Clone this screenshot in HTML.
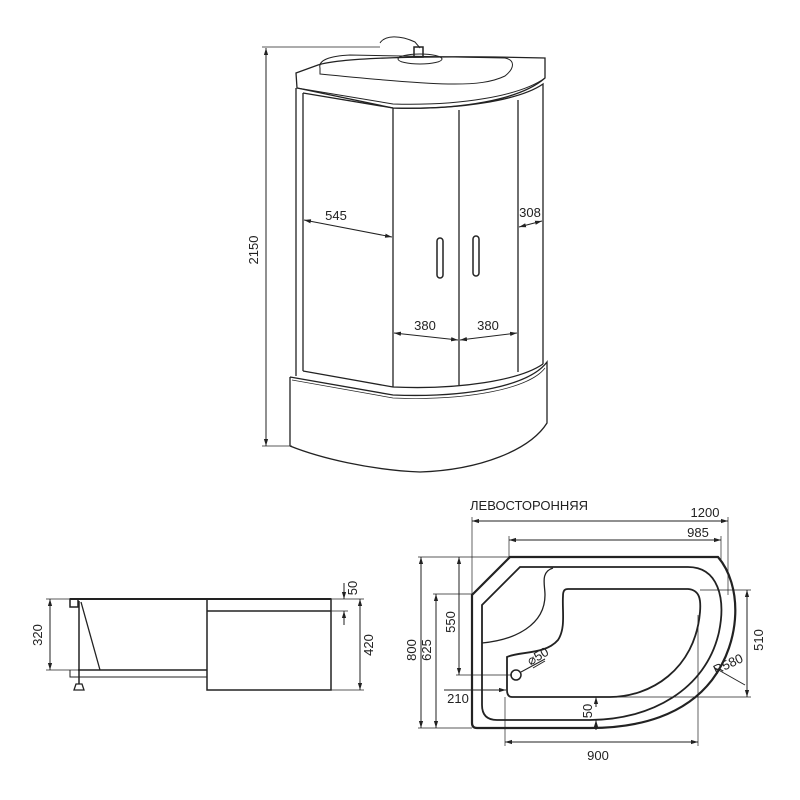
<!DOCTYPE html>
<html><head><meta charset="utf-8"><style>
html,body{margin:0;padding:0;background:#fff;}
svg{display:block;}
text{font-family:"Liberation Sans Narrow","Liberation Sans",sans-serif;font-size:13px;fill:#222;}
</style></head><body>
<svg width="800" height="800" viewBox="0 0 800 800" xmlns="http://www.w3.org/2000/svg">
<defs>
<marker id="a" viewBox="0 0 10 10" refX="10" refY="5" markerWidth="7" markerHeight="7" orient="auto-start-reverse"><path d="M0,2 L10,5 L0,8 Z" fill="#222"/></marker>
</defs>
<g fill="none" stroke="#222" stroke-width="1">
<!-- CABIN -->
<line x1="266" y1="48" x2="266" y2="446" marker-start="url(#a)" marker-end="url(#a)"/>
<line x1="262" y1="47" x2="380" y2="47" stroke-width="0.7"/>
<line x1="262" y1="446" x2="292" y2="446" stroke-width="0.7"/>
<!-- roof -->
<path d="M296,73 L318,65 C340,58 420,55 545,58 L545,78 C520,100 460,110 393,108 L297,88 Z" stroke-width="1.3"/>
<path d="M320,68 C318,60 330,56 350,55 L505,58 C515,60 515,68 505,76 C480,88 440,86 320,74 Z"/>
<ellipse cx="420" cy="59" rx="22" ry="5"/>
<path d="M380,43 C385,35 400,35 415,42 L420,48"/>
<rect x="414" y="47" width="9" height="10" stroke-width="1.5"/>
<!-- frame -->
<path d="M296,88 L296,376 M303,93 L303,371" stroke-width="1.3"/>
<path d="M303,93 L393,108 C460,110 520,100 543,84 L543,364" stroke-width="1.3"/>
<path d="M297,88 L393,104 C460,106 520,96 545,78" />
<line x1="393" y1="108" x2="393" y2="387" stroke-width="1.3"/>
<line x1="459" y1="110" x2="459" y2="385" stroke-width="1.3"/>
<line x1="518" y1="100" x2="518" y2="372" stroke-width="1.3"/>
<path d="M303,371 L393,387 C460,390 520,380 543,364" stroke-width="1.3"/>
<!-- handles -->
<rect x="437" y="238" width="6" height="40" rx="3" stroke-width="1.5"/>
<rect x="473" y="236" width="6" height="40" rx="3" stroke-width="1.5"/>
<!-- base -->
<path d="M290,377 L290,446 M290,377 L393,395 C470,398 530,385 547,362 L547,423 C530,450 480,470 420,472 C370,470 320,458 290,446" stroke-width="1.3"/>
<path d="M292,380 L393,398 C470,401 530,388 545,368" stroke-width="0.7"/>
<!-- cabin dims -->
<line x1="304" y1="220" x2="392" y2="237" marker-start="url(#a)" marker-end="url(#a)"/>
<line x1="519" y1="227" x2="542" y2="221" marker-start="url(#a)" marker-end="url(#a)"/>
<line x1="394" y1="333" x2="458" y2="340" marker-start="url(#a)" marker-end="url(#a)"/>
<line x1="460" y1="340" x2="517" y2="333" marker-start="url(#a)" marker-end="url(#a)"/>

<!-- SIDE VIEW -->
<line x1="70" y1="599" x2="331" y2="599" stroke-width="2"/>
<rect x="70" y="599" width="8" height="8" stroke-width="1.5"/>
<line x1="207" y1="599" x2="207" y2="670" stroke-dasharray="20,4"/>
<line x1="78" y1="670" x2="207" y2="670" stroke-width="1.5"/>
<path d="M70,670 L70,677 L207,677" />
<rect x="207" y="599" width="124" height="91" stroke-width="1.5"/>
<line x1="207" y1="611" x2="331" y2="611" stroke-width="1.5"/>
<line x1="79" y1="601" x2="79" y2="684" stroke-width="1.5"/>
<line x1="81" y1="602" x2="100" y2="670" stroke-width="1.3"/>
<path d="M74,690 L84,690 L82,684 L76,684 Z" stroke-width="1.3"/>
<line x1="50" y1="599" x2="50" y2="670" marker-start="url(#a)" marker-end="url(#a)"/>
<line x1="46" y1="599" x2="70" y2="599" stroke-width="0.7"/>
<line x1="46" y1="670" x2="78" y2="670" stroke-width="0.7"/>
<line x1="331" y1="599" x2="364" y2="599" stroke-width="0.7"/>
<line x1="331" y1="611" x2="348" y2="611" stroke-width="0.7"/>
<line x1="331" y1="690" x2="364" y2="690" stroke-width="0.7"/>
<line x1="344" y1="583" x2="344" y2="599" marker-end="url(#a)"/>
<line x1="344" y1="625" x2="344" y2="611" marker-end="url(#a)"/>
<line x1="360" y1="599" x2="360" y2="690" marker-start="url(#a)" marker-end="url(#a)"/>

<!-- TOP VIEW -->
<path d="M472,595 L510,557 L718,557 C742,585 742,640 712,680 C685,715 640,728 590,728 L477,728 Q472,728 472,723 Z" stroke-width="2.2"/>
<path d="M482,605 L520,567 L688,567 C718,567 726,598 719,632 C706,690 650,720 590,720 L497,720 Q482,720 482,705 Z" stroke-width="1.8"/>
<path d="M553,568 C540,572 545,585 545,595 C545,625 515,640 482,643" stroke-width="1.3"/>
<path d="M568,589 L688,589 C700,590 701,600 700,612 C695,670 650,697 610,697 L512,697 Q507,697 507,690 L507,657 C520,651 545,655 558,640 C566,628 562,610 563,596 C563,590 565,589 568,589 Z" stroke-width="1.8"/>
<circle cx="516" cy="675" r="5" stroke-width="1.5"/>
<line x1="521" y1="672" x2="545" y2="659"/>
<line x1="533" y1="668" x2="545" y2="661"/>
<line x1="715" y1="668" x2="745" y2="685"/>
<!-- dims -->
<line x1="472" y1="521" x2="728" y2="521" marker-start="url(#a)" marker-end="url(#a)"/>
<line x1="509" y1="540" x2="721" y2="540" marker-start="url(#a)" marker-end="url(#a)"/>
<line x1="472" y1="517" x2="472" y2="595" stroke-width="0.7"/>
<line x1="728" y1="517" x2="728" y2="595" stroke-width="0.7"/>
<line x1="509" y1="536" x2="509" y2="557" stroke-width="0.7"/>
<line x1="721" y1="536" x2="721" y2="560" stroke-width="0.7"/>
<line x1="421" y1="557" x2="421" y2="728" marker-start="url(#a)" marker-end="url(#a)"/>
<line x1="436" y1="594" x2="436" y2="728" marker-start="url(#a)" marker-end="url(#a)"/>
<line x1="459" y1="557" x2="459" y2="675" marker-start="url(#a)" marker-end="url(#a)"/>
<line x1="418" y1="557" x2="510" y2="557" stroke-width="0.7"/>
<line x1="433" y1="594" x2="472" y2="594" stroke-width="0.7"/>
<line x1="456" y1="675" x2="512" y2="675" stroke-width="0.7"/>
<line x1="418" y1="728" x2="472" y2="728" stroke-width="0.7"/>
<line x1="444" y1="690" x2="506" y2="690" marker-end="url(#a)"/>
<line x1="747" y1="590" x2="747" y2="697" marker-start="url(#a)" marker-end="url(#a)"/>
<line x1="700" y1="590" x2="751" y2="590" stroke-width="0.7"/>
<line x1="610" y1="697" x2="751" y2="697" stroke-width="0.7"/>
<line x1="596" y1="707" x2="596" y2="697" marker-end="url(#a)"/>
<line x1="596" y1="730" x2="596" y2="720" marker-end="url(#a)"/>
<line x1="505" y1="742" x2="698" y2="742" marker-start="url(#a)" marker-end="url(#a)"/>
<line x1="505" y1="697" x2="505" y2="746" stroke-width="0.7"/>
<line x1="698" y1="615" x2="698" y2="746" stroke-width="0.7"/>
</g>
<g>
<text x="258" y="250" text-anchor="middle" transform="rotate(-90 258 250)">2150</text>
<text x="336" y="220" text-anchor="middle">545</text>
<text x="530" y="217" text-anchor="middle">308</text>
<text x="425" y="330" text-anchor="middle">380</text>
<text x="488" y="330" text-anchor="middle">380</text>
<text x="42" y="635" text-anchor="middle" transform="rotate(-90 42 635)">320</text>
<text x="357" y="588" text-anchor="middle" transform="rotate(-90 357 588)">50</text>
<text x="373" y="645" text-anchor="middle" transform="rotate(-90 373 645)">420</text>
<text x="470" y="510">ЛЕВОСТОРОННЯЯ</text>
<text x="705" y="517" text-anchor="middle">1200</text>
<text x="698" y="537" text-anchor="middle">985</text>
<text x="416" y="650" text-anchor="middle" transform="rotate(-90 416 650)">800</text>
<text x="431" y="650" text-anchor="middle" transform="rotate(-90 431 650)">625</text>
<text x="455" y="622" text-anchor="middle" transform="rotate(-90 455 622)">550</text>
<text x="458" y="703" text-anchor="middle">210</text>
<text x="540" y="660" text-anchor="middle" transform="rotate(-30 540 660)">⌀50</text>
<text x="730" y="668" text-anchor="middle" transform="rotate(-25 730 668)">R580</text>
<text x="763" y="640" text-anchor="middle" transform="rotate(-90 763 640)">510</text>
<text x="592" y="711" text-anchor="middle" transform="rotate(-90 592 711)">50</text>
<text x="598" y="760" text-anchor="middle">900</text>
</g>
</svg>
</body></html>
